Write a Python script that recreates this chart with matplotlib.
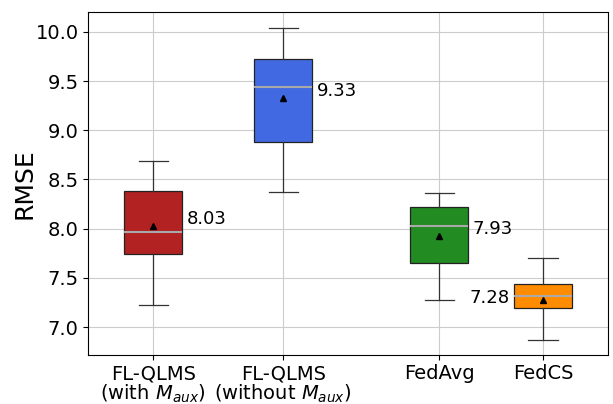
import numpy as np
import matplotlib.pyplot as plt

labels = ["FL-QLMS\n(with $M_{aux}$)", "FL-QLMS\n(without $M_{aux}$)", "FedAvg", "FedCS"]
positions = [1, 2, 3.2, 4]
colors = ["firebrick", "royalblue", "forestgreen", "darkorange"]

whislo = [7.22, 8.37, 7.27, 6.87]
q1 = [7.74, 8.88, 7.65, 7.19]
med = [7.97, 9.44, 8.03, 7.32]
q3 = [8.38, 9.72, 8.22, 7.44]
whishi = [8.69, 10.04, 8.36, 7.70]
means = [8.03, 9.33, 7.93, 7.28]

stats = []
for i in range(len(labels)):
    stats.append({"whislo": whislo[i], "q1": q1[i], "med": med[i], "q3": q3[i],
                  "whishi": whishi[i], "mean": means[i], "fliers": [], "label": labels[i]})

fig, ax = plt.subplots(figsize=(6.13, 4.04), dpi=100)
bp = ax.bxp(stats, positions=positions, widths=0.45, patch_artist=True, showmeans=True,
            medianprops=dict(color="darkgray", linewidth=1.5),
            meanprops=dict(marker="^", markerfacecolor="black", markeredgecolor="black", markersize=4),
            whiskerprops=dict(color="#333333", linewidth=0.9),
            capprops=dict(color="#333333", linewidth=0.9),
            boxprops=dict(linewidth=0.9))
for patch, c in zip(bp["boxes"], colors):
    patch.set_facecolor(c)
    patch.set_edgecolor("#222222")

# mean value labels next to each box
for i, m in enumerate(means):
    if i == 3:
        ax.text(positions[i] - 0.26, m + 0.02, f"{m:.2f}", ha="right", va="center", fontsize=13)
    else:
        ax.text(positions[i] + 0.26, m + 0.07, f"{m:.2f}", ha="left", va="center", fontsize=13)

ax.set_xlim(0.5, 4.5)
ax.set_ylim(6.715, 10.2)
ax.set_yticks([7.0, 7.5, 8.0, 8.5, 9.0, 9.5, 10.0])
ax.tick_params(axis="both", labelsize=14)
ax.tick_params(axis="x", pad=3)
for lab in ax.get_xticklabels():
    lab.set_linespacing(0.95)
ax.set_ylabel("RMSE", fontsize=18, labelpad=-1)
ax.grid(True, color="#cccccc", linewidth=0.8)
ax.set_axisbelow(True)

fig.subplots_adjust(left=0.144, right=0.992, top=0.97, bottom=0.121)
fig.savefig("out.png")
